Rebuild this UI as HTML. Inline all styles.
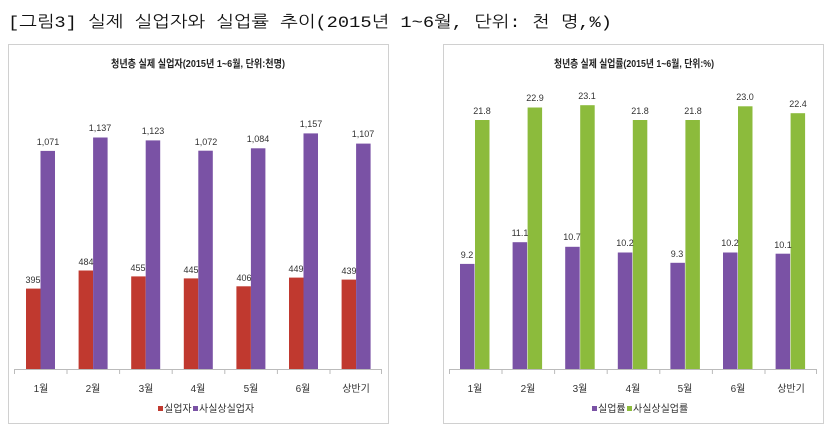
<!DOCTYPE html>
<html><head><meta charset="utf-8"><style>
html,body{margin:0;padding:0;background:#fff;width:836px;height:444px;overflow:hidden}
svg{display:block}
text{font-family:"Liberation Sans","Noto Sans CJK KR",sans-serif}
</style></head><body>
<svg width="836" height="444" viewBox="0 0 836 444">
<text x="8" y="27" font-size="16" textLength="604" lengthAdjust="spacingAndGlyphs" fill="#111" style="font-family:'Liberation Mono','NanumGothic','Noto Sans CJK KR',monospace">[그림3] 실제 실업자와 실업률 추이(2015년 1~6월, 단위: 천 명,%)</text>

<!-- Left panel -->
<rect x="8.5" y="44.5" width="380" height="379" fill="#fff" stroke="#d0d0d0"/>
<text x="198" y="67" font-size="10.5" font-weight="bold" text-anchor="middle" fill="#222" textLength="174" lengthAdjust="spacingAndGlyphs">청년층 실제 실업자(2015년 1~6월, 단위:천명)</text>
<g fill="#c0392f">
<rect x="26" y="288.6" width="14.5" height="80.4"/>
<rect x="78.6" y="270.5" width="14.5" height="98.5"/>
<rect x="131.2" y="276.4" width="14.5" height="92.6"/>
<rect x="183.8" y="278.4" width="14.5" height="90.6"/>
<rect x="236.4" y="286.3" width="14.5" height="82.7"/>
<rect x="289" y="277.6" width="14.5" height="91.4"/>
<rect x="341.6" y="279.6" width="14.5" height="89.4"/>
</g>
<g fill="#7a52a5">
<rect x="40.5" y="150.9" width="14.5" height="218.1"/>
<rect x="93.1" y="137.5" width="14.5" height="231.5"/>
<rect x="145.7" y="140.4" width="14.5" height="228.6"/>
<rect x="198.3" y="150.7" width="14.5" height="218.3"/>
<rect x="250.9" y="148.3" width="14.5" height="220.7"/>
<rect x="303.5" y="133.4" width="14.5" height="235.6"/>
<rect x="356.1" y="143.6" width="14.5" height="225.4"/>
</g>
<g font-size="9" fill="#333" text-anchor="middle">
<text x="33" y="283">395</text><text x="86" y="265">484</text><text x="138" y="271">455</text><text x="191" y="273">445</text><text x="244" y="281">406</text><text x="296" y="272">449</text><text x="349" y="274">439</text>
<text x="48" y="145">1,071</text><text x="100" y="131">1,137</text><text x="153" y="134">1,123</text><text x="206" y="145">1,072</text><text x="258" y="142">1,084</text><text x="311" y="127">1,157</text><text x="363" y="137">1,107</text>
</g>
<path d="M14 369.5H382M14.5 369v5M67 369v5M119.6 369v5M172.2 369v5M224.8 369v5M277.4 369v5M330 369v5M381.5 369v5" stroke="#bbb" fill="none"/>
<g font-size="10" fill="#333" text-anchor="middle">
<text x="41" y="392">1월</text><text x="93" y="392">2월</text><text x="146" y="392">3월</text><text x="198" y="392">4월</text><text x="251" y="392">5월</text><text x="303" y="392">6월</text><text x="356" y="392">상반기</text>
</g>
<rect x="158" y="406" width="5" height="5" fill="#c0392f"/>
<text x="164" y="412" font-size="10" fill="#333">실업자</text>
<rect x="193" y="406" width="5" height="5" fill="#7a52a5"/>
<text x="199" y="412" font-size="10" fill="#333">사실상실업자</text>

<!-- Right panel -->
<rect x="443.5" y="44.5" width="380" height="379" fill="#fff" stroke="#d0d0d0"/>
<text x="634" y="67" font-size="10.5" font-weight="bold" text-anchor="middle" fill="#222" textLength="160" lengthAdjust="spacingAndGlyphs">청년층 실제 실업률(2015년 1~6월, 단위:%)</text>
<g fill="#7a52a5">
<rect x="460" y="263.9" width="14.5" height="105.1"/>
<rect x="512.6" y="242.2" width="14.5" height="126.8"/>
<rect x="565.2" y="246.8" width="14.5" height="122.2"/>
<rect x="617.8" y="252.5" width="14.5" height="116.5"/>
<rect x="670.4" y="262.8" width="14.5" height="106.2"/>
<rect x="723" y="252.5" width="14.5" height="116.5"/>
<rect x="775.6" y="253.7" width="14.5" height="115.3"/>
</g>
<g fill="#8cbb3c">
<rect x="475" y="120" width="14.5" height="249"/>
<rect x="527.6" y="107.5" width="14.5" height="261.5"/>
<rect x="580.2" y="105.2" width="14.5" height="263.8"/>
<rect x="632.8" y="120" width="14.5" height="249"/>
<rect x="685.4" y="120" width="14.5" height="249"/>
<rect x="738" y="106.3" width="14.5" height="262.7"/>
<rect x="790.6" y="113.2" width="14.5" height="255.8"/>
</g>
<g font-size="9" fill="#333" text-anchor="middle">
<text x="467" y="258">9.2</text><text x="520" y="236">11.1</text><text x="572" y="240">10.7</text><text x="625" y="246">10.2</text><text x="677" y="257">9.3</text><text x="730" y="246">10.2</text><text x="783" y="248">10.1</text>
<text x="482" y="114">21.8</text><text x="535" y="101">22.9</text><text x="587" y="99">23.1</text><text x="640" y="114">21.8</text><text x="693" y="114">21.8</text><text x="745" y="100">23.0</text><text x="798" y="107">22.4</text>
</g>
<path d="M449 369.5H817M449.5 369v5M502 369v5M554.6 369v5M607.2 369v5M659.8 369v5M712.4 369v5M765 369v5M816.5 369v5" stroke="#bbb" fill="none"/>
<g font-size="10" fill="#333" text-anchor="middle">
<text x="475" y="392">1월</text><text x="528" y="392">2월</text><text x="580" y="392">3월</text><text x="633" y="392">4월</text><text x="685" y="392">5월</text><text x="738" y="392">6월</text><text x="791" y="392">상반기</text>
</g>
<rect x="592" y="406" width="5" height="5" fill="#7a52a5"/>
<text x="598" y="412" font-size="10" fill="#333">실업률</text>
<rect x="627" y="406" width="5" height="5" fill="#8cbb3c"/>
<text x="633" y="412" font-size="10" fill="#333">사실상실업률</text>
</svg>
</body></html>
